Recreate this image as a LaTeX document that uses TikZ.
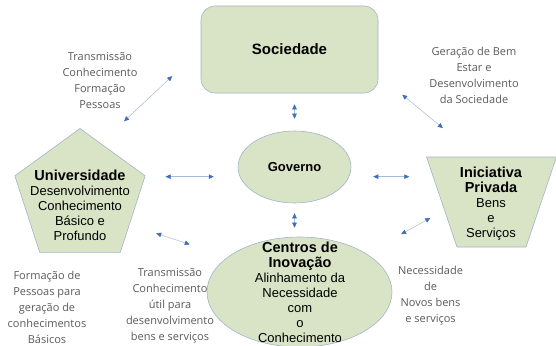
\documentclass[tikz,border=0pt]{standalone}
\usepackage{fontspec}
\setmainfont{Liberation Sans}
\newfontfamily\sidefont{Open Sans}
\usetikzlibrary{shapes.geometric, arrows.meta, positioning, calc}

\definecolor{blobfill}{HTML}{D8E4C5}
\definecolor{blobline}{HTML}{A3B5C6}
\definecolor{linkline}{HTML}{A6BADB}
\definecolor{linkhead}{HTML}{3F6DB8}
\definecolor{sidegray}{HTML}{5A5A5A}
\newcommand{\ttlfont}{\fontsize{14.5}{15.5}\selectfont\bfseries}
\newcommand{\bodyfont}{\fontsize{13}{15}\selectfont}

\tikzset{
  blob/.style={fill=blobfill, draw=blobline, line width=0.6pt, inner sep=0pt},
  blobtext/.style={align=center, font=\bodyfont, inner sep=0pt},
  sidetext/.style={align=center, font=\sidefont\fontsize{11}{16}\selectfont, text=sidegray, inner sep=0pt},
  link/.style={draw=linkline, line width=0.5pt, {Triangle[length=5pt, width=4.5pt, color=linkhead]}-{Triangle[length=5pt, width=4.5pt, color=linkhead]}}
}

\begin{document}
\begin{tikzpicture}[x=1pt, y=-1pt]
\useasboundingbox (0,0) rectangle (556,345);

% Sociedade
\node[blob, rectangle, rounded corners=14pt, minimum width=177pt, minimum height=87pt,
      font=\fontsize{15}{18}\selectfont\bfseries] (soc) at (289.5,49.5) {Sociedade};

% Governo
\node[blob, ellipse, minimum width=113pt, minimum height=72pt,
      font=\fontsize{13}{15}\selectfont\bfseries] (gov) at (294.5,167) {Governo};

% Universidade
\node[blob, regular polygon, regular polygon sides=5, minimum size=137pt] (uni) at (80,197) {};
\node[blobtext] (unitext) at (80,205.5) {{\ttlfont Universidade}\\Desenvolvimento\\Conhecimento\\B\'asico e\\Profundo};

% Iniciativa Privada
\node[blob, trapezium, shape border rotate=180, trapezium angle=71.3,
      text width=69pt, text height=90pt, text depth=0pt] (ini) at (491.5,202) {};
\node[blobtext] (initext) at (491,203.5) {{\ttlfont Iniciativa}\\{\ttlfont Privada}\\Bens\\e\\Servi\c{c}os};

% Centros de Inovacao
\node[blob, ellipse, minimum width=185pt, minimum height=110pt] (cen) at (299.5,292) {};
\node[blobtext] (centext) at (300,292.5) {{\ttlfont Centros de}\\{\ttlfont Inova\c{c}\~ao}\\Alinhamento da\\Necessidade\\com\\o\\Conhecimento};

% textos laterais
\node[sidetext] (trans1) at (100,81) {Transmiss\~ao\\Conhecimento\\Forma\c{c}\~ao\\Pessoas};
\node[sidetext] (bemestar) at (474,75) {Gera\c{c}\~ao de Bem\\Estar e\\Desenvolvimento\\da Sociedade};
\node[sidetext] (formacao) at (47,307.5) {Forma\c{c}\~ao de\\Pessoas para\\gera\c{c}\~ao de\\conhecimentos\\B\'asicos};
\node[sidetext] (trans2) at (170,306) {Transmiss\~ao\\Conhecimento\\\'util para\\desenvolvimento\\bens e servi\c{c}os};
\node[sidetext] (necess) at (430.5,296) {Necessidade\\de\\Novos bens\\e servi\c{c}os};

% setas
\draw[link, shorten <=32pt, shorten >=39pt] (uni.69) -- (soc.west);
\draw[link, shorten <=11pt, shorten >=12pt] (soc.south -| gov.north) -- (gov.north);
\draw[link, shorten <=31pt, shorten >=45pt] (soc.-16) -- (ini.107);
\draw[link, shorten <=27pt, shorten >=26pt] (uni.east |- gov.190) -- (gov.190);
\draw[link, shorten <=24pt, shorten >=35pt] (gov.350) -- (gov.350 -| ini.190);
\draw[link, shorten <=10pt, shorten >=9pt] (gov.south) -- (gov.south |- cen.north);
\draw[link, shorten <=28pt, shorten >=40pt] (uni.-29) -- (cen.154);
\draw[link, shorten <=40pt, shorten >=16pt] (cen.30) -- (ini.190);
\end{tikzpicture}
\end{document}
